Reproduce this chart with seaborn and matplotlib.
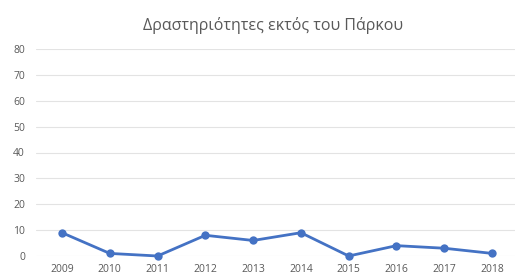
import matplotlib
matplotlib.use("Agg")
import matplotlib.pyplot as plt
import seaborn as sns
import pandas as pd

years = ["2009", "2010", "2011", "2012", "2013", "2014", "2015", "2016", "2017", "2018"]
activities = [9, 1, 0, 8, 6, 9, 0, 4, 3, 1]
y_ticks = [0, 10, 20, 30, 40, 50, 60, 70, 80]

sns.set_style("white")
plt.rcParams['font.family'] = ['Open Sans', 'DejaVu Sans']

df = pd.DataFrame({"Year": years, "Count": activities})

fig = plt.figure(figsize=(5.15, 2.77), dpi=100)
ax = fig.add_axes([36 / 515, 21 / 277, 479 / 515, 207 / 277])

sns.lineplot(data=df, x="Year", y="Count", ax=ax, color="#4472C4",
             linewidth=2, marker="o", markersize=6, markeredgewidth=0,
             sort=False, clip_on=False, zorder=3)

ax.set_ylim(0, 80)
ax.set_xlim(-0.544, 9.48)
ax.set_yticks(y_ticks)
ax.grid(axis="y", color="#e3e3e3", linewidth=0.8)
ax.set_axisbelow(True)
for s in ax.spines.values():
    s.set_visible(False)
ax.tick_params(axis="both", length=0, labelsize=7.5, labelcolor="#595959")
ax.tick_params(axis="y", pad=8)
ax.tick_params(axis="x", pad=6)
ax.set_xlabel("")
ax.set_ylabel("")

fig.text(273 / 515, 1 - 26 / 277, "Δραστηριότητες εκτός του Πάρκου", ha="center",
         va="center", fontsize=11.5, color="#595959")

plt.savefig("out.png", dpi=100)
plt.close()
